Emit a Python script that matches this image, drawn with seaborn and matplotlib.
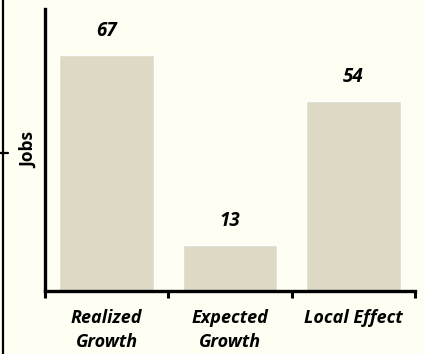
import matplotlib
matplotlib.use("Agg")
import matplotlib.pyplot as plt
import seaborn as sns
import pandas as pd
from matplotlib.lines import Line2D

categories = ["Realized\nGrowth", "Expected\nGrowth", "Local Effect"]
values = [67, 13, 54]
value_labels = ["67", "13", "54"]

sns.set_theme(style="white")
plt.rcParams["font.family"] = ["Open Sans", "DejaVu Sans"]
plt.rcParams["text.color"] = "black"
plt.rcParams["axes.labelcolor"] = "black"

bg = "#FEFEF2"
bar_color = "#DDD9C4"

fig = plt.figure(figsize=(4.23, 3.54), dpi=100, facecolor=bg)
ax = fig.add_axes([45/423, 1-291/354, (415-45)/423, (291-9)/354])
ax.set_facecolor(bg)

df = pd.DataFrame({"cat": categories, "val": values})
sns.barplot(data=df, x="cat", y="val", color=bar_color, width=0.77,
            saturation=1, ax=ax)

ax.set_ylim(0, 80)
ax.set_xlim(-0.5, 2.5)
ax.set_yticks([])
ax.set_xticks([-0.5, 0.5, 1.5, 2.5])
ax.set_xticklabels([])
ax.tick_params(axis="x", bottom=True, length=5, width=2.2, color="black", direction="out")
for i, c in enumerate(categories):
    ax.text(i, -0.065, c, transform=ax.get_xaxis_transform(), ha="center", va="top",
            fontsize=13, fontweight="bold", fontstyle="italic", linespacing=1.4)

for s in ["top", "right"]:
    ax.spines[s].set_visible(False)
for s in ["left", "bottom"]:
    ax.spines[s].set_color("black")
    ax.spines[s].set_linewidth(2.4)

for i, (v, lab) in enumerate(zip(values, value_labels)):
    ax.text(i, v + 4, lab, ha="center", va="bottom", fontsize=13.5,
            fontweight="bold", fontstyle="italic")

ax.set_xlabel("")
ax.set_ylabel("Jobs", fontsize=12.5, fontweight="bold", labelpad=5)

# artifact line at left edge
fig.add_artist(Line2D([3/423, 3/423], [0, 1], color="black", lw=1.6))
fig.add_artist(Line2D([0, 8/423], [1-153/354, 1-153/354], color="black", lw=1.6))

fig.savefig("out.png", dpi=100, facecolor=bg)
